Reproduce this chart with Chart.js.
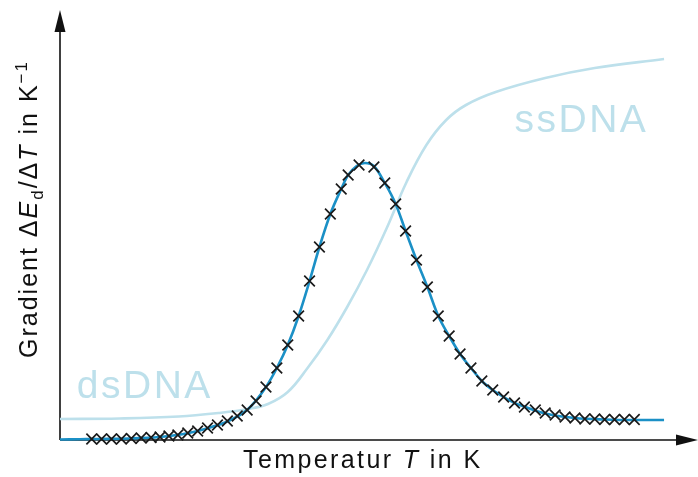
<!DOCTYPE html>
<html>
<head>
<meta charset="utf-8">
<script src="https://cdn.jsdelivr.net/npm/chart.js@4"></script>
<style>
  html, body { margin: 0; padding: 0; background: #fff; }
  canvas { display: block; }
</style>
</head>
<body>
<canvas id="meltChart" width="698" height="477"></canvas>
<script>
// measured gradient (crosses), temperature in arbitrary units
const measT = [6.4, 8.4, 10.4, 12.4, 14.4, 16.4, 18.4, 20.2, 22.0, 23.8, 25.8, 27.8, 29.8, 31.8, 33.8, 35.8, 37.8, 39.6,
    41.6, 43.8, 46.0, 48.2, 50.4, 52.4, 54.6, 56.8, 58.2, 60.4, 63.4, 65.6, 67.8, 69.8, 72.0, 74.2, 76.4, 78.6, 80.8,
    83.0, 85.2, 87.4, 89.6, 91.8, 93.8, 96.0, 98.0, 100.0, 102.0, 104.0, 106.0, 108.0, 110.0, 112.0, 114.0, 116.0];
const measGrad = [0.2, 0.2, 0.2, 0.2, 0.3, 0.4, 0.5, 0.6, 0.8, 1.0, 1.4, 1.8, 2.4, 3.0, 3.8, 4.8, 6.0, 7.8,
    10.6, 14.4, 19.0, 24.8, 31.8, 38.6, 45.2, 50.2, 53.0, 55.0, 54.6, 51.4, 47.2, 41.8, 36.0, 30.6, 24.8, 20.8, 17.2,
    14.4, 11.8, 10.0, 8.6, 7.4, 6.6, 6.0, 5.4, 5.0, 4.6, 4.4, 4.2, 4.2, 4.1, 4.1, 4.1, 4.1];

// fitted gradient curve (blue)
const fitT = [0, 4, 8, 14, 20, 26, 30, 34, 38, 41.6, 43.8, 46.0, 48.2, 50.4, 52.4, 54.6, 56.8, 58.2, 61.6, 63.4,
    65.6, 67.8, 69.8, 72.0, 74.2, 76.4, 78.6, 80.8, 83.0, 85.2, 87.4, 89.6, 91.8, 94, 98, 104, 110, 116, 122];
const fitGrad = [0.1, 0.15, 0.2, 0.3, 0.6, 1.4, 2.4, 3.8, 6.2, 10.6, 14.4, 19.0, 24.8, 31.8, 38.6, 45.2, 50.2, 53.0, 55.4, 54.8,
    51.4, 47.2, 41.8, 36.0, 30.6, 24.8, 20.8, 17.2, 14.4, 11.8, 10.0, 8.6, 7.4, 6.6, 5.3, 4.4, 4.1, 4.0, 4.0];

// melting curve in the background (light blue)
const meltT = [0, 12, 24, 32, 38, 42, 46, 50, 54, 58, 62, 66, 70, 74, 78, 82, 88, 98, 108, 122];
const meltVal = [4.2, 4.3, 4.7, 5.4, 6.2, 7.2, 9.6, 14.4, 20, 26.6, 34, 42.4, 51.6, 59, 64, 67, 69.6, 72.4, 74.4, 76.2];

const stateLabels = [
    { text: 'dsDNA', t: 3.4, v: 8.4 },
    { text: 'ssDNA', t: 91.8, v: 61.6 }
];

const xTitle = [
    { t: 'Temperatur ' }, { t: 'T', italic: true }, { t: ' in K' }
];
const yTitle = [
    { t: 'Gradient Δ' }, { t: 'E', italic: true }, { t: 'd', sub: true }, { t: '/Δ' },
    { t: 'T', italic: true }, { t: ' in K' }, { t: '−1', sup: true }
];

const toPoints = (xs, ys) => xs.map((x, i) => ({ x: x, y: ys[i] }));

const lightBlue = '#bde0eb';
const darkBlue = '#1b90c6';

function drawRich(ctx, parts, size) {
    let x = 0;
    parts.forEach(p => {
        const s = (p.sub || p.sup) ? size * 0.68 : size;
        ctx.font = (p.italic ? 'italic ' : '') + s + 'px "Liberation Sans", Arial, sans-serif';
        const dy = p.sub ? size * 0.22 : (p.sup ? -size * 0.4 : 0);
        ctx.fillText(p.t, x, dy);
        x += ctx.measureText(p.t).width;
    });
}

const decorPlugin = {
    id: 'decor',
    beforeDatasetsDraw(chart) {
        const ctx = chart.ctx;
        const xs = chart.scales.x, ys = chart.scales.y;
        const x0 = xs.getPixelForValue(0), y0 = ys.getPixelForValue(0);
        ctx.save();

        // state labels
        ctx.fillStyle = lightBlue;
        ctx.font = '39px "Liberation Sans", Arial, sans-serif';
        ctx.letterSpacing = '2.5px';
        ctx.textBaseline = 'alphabetic';
        stateLabels.forEach(l => {
            ctx.fillText(l.text, xs.getPixelForValue(l.t), ys.getPixelForValue(l.v));
        });

        // axes with arrow heads
        ctx.strokeStyle = '#111';
        ctx.fillStyle = '#111';
        ctx.lineWidth = 1.6;
        ctx.beginPath();
        ctx.moveTo(x0, y0);
        ctx.lineTo(x0, 28);
        ctx.moveTo(x0, y0);
        ctx.lineTo(680, y0);
        ctx.stroke();
        ctx.beginPath();
        ctx.moveTo(x0, 10);
        ctx.lineTo(x0 - 5.5, 32);
        ctx.lineTo(x0 + 5.5, 32);
        ctx.closePath();
        ctx.fill();
        ctx.beginPath();
        ctx.moveTo(698, y0);
        ctx.lineTo(676, y0 - 5.5);
        ctx.lineTo(676, y0 + 5.5);
        ctx.closePath();
        ctx.fill();

        // axis titles
        ctx.fillStyle = '#111';
        ctx.letterSpacing = '2.4px';
        ctx.save();
        ctx.translate(243, 468);
        drawRich(ctx, xTitle, 25);
        ctx.restore();
        ctx.save();
        ctx.translate(37, 358);
        ctx.rotate(-Math.PI / 2);
        ctx.letterSpacing = '2px';
        drawRich(ctx, yTitle, 25);
        ctx.restore();

        ctx.restore();
    }
};

const chart = new Chart(document.getElementById('meltChart').getContext('2d'), {
    type: 'scatter',
    data: {
        datasets: [
            {
                label: 'Messwerte',
                data: toPoints(measT, measGrad),
                showLine: false,
                pointStyle: 'crossRot',
                pointRadius: 7.5,
                borderColor: '#1a1a1a',
                borderWidth: 1.7,
                clip: false
            },
            {
                label: 'Gradient',
                data: toPoints(fitT, fitGrad),
                showLine: true,
                borderColor: darkBlue,
                borderWidth: 2.6,
                pointRadius: 0,
                cubicInterpolationMode: 'monotone',
                clip: false
            },
            {
                label: 'Schmelzkurve',
                data: toPoints(meltT, meltVal),
                showLine: true,
                borderColor: lightBlue,
                borderWidth: 2.6,
                pointRadius: 0,
                tension: 0.4,
                clip: false
            }
        ]
    },
    options: {
        responsive: false,
        animation: false,
        layout: { padding: { left: 60, right: 3, top: 10, bottom: 37 } },
        plugins: {
            legend: { display: false },
            tooltip: { enabled: false }
        },
        scales: {
            x: { type: 'linear', min: 0, max: 127, display: false },
            y: { type: 'linear', min: 0, max: 86, display: false }
        }
    },
    plugins: [decorPlugin]
});
</script>
</body>
</html>
